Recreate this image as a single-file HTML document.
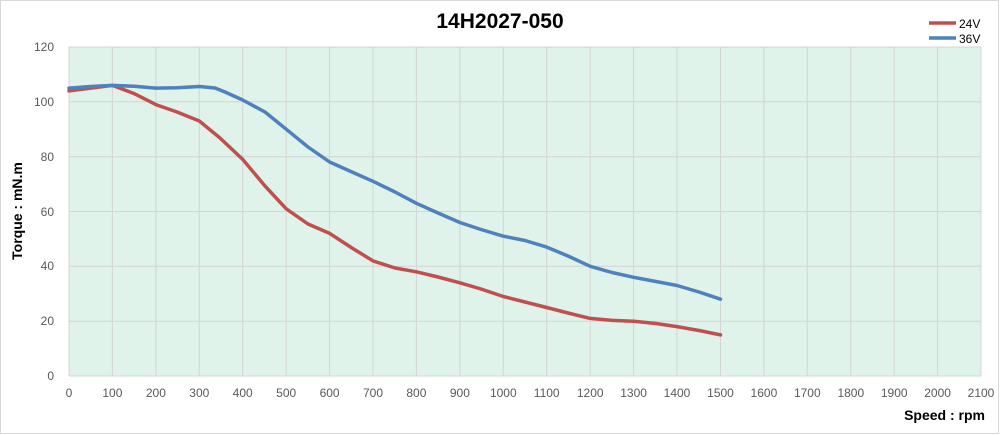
<!DOCTYPE html>
<html><head><meta charset="utf-8"><style>
html,body{margin:0;padding:0;background:#fff;}
svg{display:block;font-family:"Liberation Sans",sans-serif;}
</style></head><body>
<svg width="1000" height="435" viewBox="0 0 1000 435">
<rect x="0.5" y="0.5" width="998" height="433" fill="#fff" stroke="#d9d9d9"/>
<rect x="69" y="47" width="912" height="329" fill="#dff3ea"/>
<g stroke="#d4d4d4" stroke-width="1">
<line x1="69" y1="47" x2="981" y2="47"/><line x1="69" y1="101.8" x2="981" y2="101.8"/>
<line x1="69" y1="156.7" x2="981" y2="156.7"/><line x1="69" y1="211.5" x2="981" y2="211.5"/>
<line x1="69" y1="266.3" x2="981" y2="266.3"/><line x1="69" y1="321.2" x2="981" y2="321.2"/>
<line x1="69" y1="376" x2="981" y2="376"/>
<line x1="69" y1="47" x2="69" y2="376"/><line x1="112.4" y1="47" x2="112.4" y2="376"/><line x1="155.9" y1="47" x2="155.9" y2="376"/><line x1="199.3" y1="47" x2="199.3" y2="376"/><line x1="242.7" y1="47" x2="242.7" y2="376"/><line x1="286.2" y1="47" x2="286.2" y2="376"/><line x1="329.6" y1="47" x2="329.6" y2="376"/><line x1="373" y1="47" x2="373" y2="376"/><line x1="416.4" y1="47" x2="416.4" y2="376"/><line x1="459.9" y1="47" x2="459.9" y2="376"/><line x1="503.3" y1="47" x2="503.3" y2="376"/><line x1="546.7" y1="47" x2="546.7" y2="376"/><line x1="590.2" y1="47" x2="590.2" y2="376"/><line x1="633.6" y1="47" x2="633.6" y2="376"/><line x1="677" y1="47" x2="677" y2="376"/><line x1="720.5" y1="47" x2="720.5" y2="376"/><line x1="763.9" y1="47" x2="763.9" y2="376"/><line x1="807.3" y1="47" x2="807.3" y2="376"/><line x1="850.8" y1="47" x2="850.8" y2="376"/><line x1="894.2" y1="47" x2="894.2" y2="376"/><line x1="937.6" y1="47" x2="937.6" y2="376"/><line x1="981" y1="47" x2="981" y2="376"/>
</g>
<g font-size="12" fill="#595959" text-anchor="end">
<text x="54" y="51">120</text><text x="54" y="106">100</text><text x="54" y="161">80</text><text x="54" y="216">60</text><text x="54" y="270">40</text><text x="54" y="325">20</text><text x="54" y="380">0</text>
</g>
<g font-size="12" fill="#595959" text-anchor="middle">
<text x="69" y="397">0</text><text x="112.4" y="397">100</text><text x="155.9" y="397">200</text><text x="199.3" y="397">300</text><text x="242.7" y="397">400</text><text x="286.2" y="397">500</text><text x="329.6" y="397">600</text><text x="373" y="397">700</text><text x="416.4" y="397">800</text><text x="459.9" y="397">900</text><text x="503.3" y="397">1000</text><text x="546.7" y="397">1100</text><text x="590.2" y="397">1200</text><text x="633.6" y="397">1300</text><text x="677" y="397">1400</text><text x="720.5" y="397">1500</text><text x="763.9" y="397">1600</text><text x="807.3" y="397">1700</text><text x="850.8" y="397">1800</text><text x="894.2" y="397">1900</text><text x="937.6" y="397">2000</text><text x="981" y="397">2100</text>
</g>
<text x="500" y="28" font-size="21" font-weight="bold" text-anchor="middle" fill="#000">14H2027-050</text>
<text x="985" y="420" font-size="14" font-weight="bold" text-anchor="end" fill="#000">Speed : rpm</text>
<text transform="translate(22,211) rotate(-90)" font-size="14" font-weight="bold" text-anchor="middle" fill="#000">Torque : mN.m</text>
<g fill="none" stroke-width="3.5" stroke-linejoin="round" stroke-linecap="round">
<polyline stroke="#c0504d" points="69,90.9 90.7,88.1 112.4,85.4 134.1,93.6 155.9,104.6 177,112 199.3,121 220,138 242.7,159.4 265,186 286.2,208.8 308,224 329.6,233.4 352,248 373,260.9 395,268 416.4,271.8 438,277 459.9,282.8 481,289 503.3,296.5 525,302 546.7,307.5 568,313 590.2,318.4 612,320.4 633.6,321.2 656,323.5 677,326.6 699,330.5 720.5,334.9"/>
<polyline stroke="#4f81bd" points="69,88.1 90.7,86.5 112.4,85.4 134.1,86.3 155.9,88.1 177,87.8 199.3,86.5 215,88 225,92 242.7,100 265,112 286.2,129.2 308,147 329.6,162 352,172 373,181.3 395,192 416.4,203.3 438,213 459.9,222.5 481,229.5 503.3,236.2 525,240.5 546.7,247.1 568,256 590.2,266.3 612,272.5 633.6,277.3 656,281.5 677,285.5 699,292 720.5,299.2"/>
</g>
<line x1="929" y1="23" x2="956" y2="23" stroke="#c0504d" stroke-width="3.5"/>
<line x1="929" y1="38" x2="956" y2="38" stroke="#4f81bd" stroke-width="3.5"/>
<text x="959" y="28" font-size="12" fill="#000">24V</text>
<text x="959" y="43" font-size="12" fill="#000">36V</text>
</svg>
</body></html>
